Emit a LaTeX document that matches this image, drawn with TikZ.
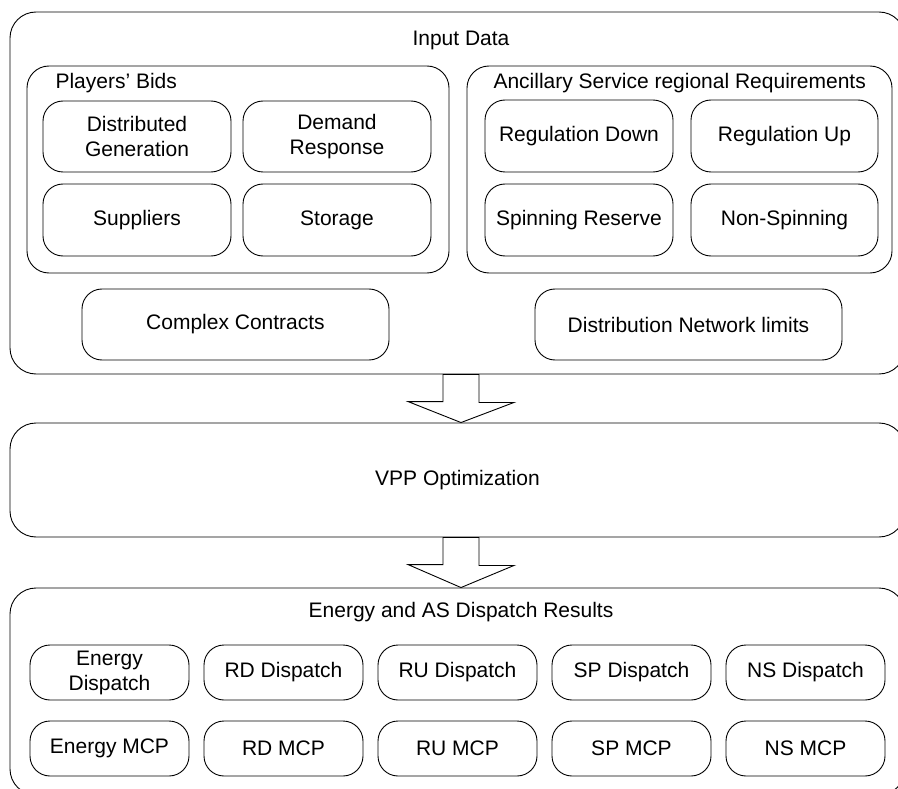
\documentclass[tikz,border=0pt]{standalone}
\usepackage{fontspec}
\setmainfont{Liberation Sans}
\usetikzlibrary{calc}
\begin{document}
\begin{tikzpicture}[x=1pt,y=-1pt,
  font=\fontsize{21}{25}\selectfont,
  panel/.style={draw, line width=0.9pt, rounded corners=26pt, inner sep=0pt, minimum width=895pt},
  group/.style={draw, line width=0.9pt, rounded corners=22pt, inner sep=0pt, minimum height=207pt},
  item/.style={draw, line width=0.9pt, rounded corners=20pt, align=center, inner sep=0pt},
  cell/.style={item, minimum width=159pt, minimum height=55pt},
  blockarrow/.style={draw, fill=white, line width=0.9pt, line join=miter}]
\useasboundingbox (0,0) rectangle (898,789);
\clip (0,0) rectangle (898,789);
\fill[white] (0,0) rectangle (898,789);

% three stacked panels
\node[panel, minimum height=362pt] (inbox) at (457.5,193) {};
\node[panel, minimum height=114pt] (vpp) at (457.5,480) {VPP Optimization};
\node[panel, minimum height=207pt] (res) at (457.5,691.5) {};

\node (intitle) at (461,40) {Input Data};
\node (restitle) at (461,612) {Energy and AS Dispatch Results};

% block arrows between the panels
\coordinate (ax) at (461,0);
\draw[blockarrow] ($(ax|-inbox.south)+(-18,0)$) -- ++(36,0) -- ++(0,28) -- ++(35,0)
  -- (ax|-vpp.north) -- ++(-53,-21) -- ++(35,0) -- cycle;
\draw[blockarrow] ($(ax|-vpp.south)+(-18,0)$) -- ++(36,0) -- ++(0,28) -- ++(35,0)
  -- (ax|-res.north) -- ++(-53,-23) -- ++(35,0) -- cycle;

% players' bids
\node[group, minimum width=422pt] (bids) at (238,169.5) {};
\node[anchor=base west] (bidstitle) at (52,89) {Players’ Bids};
\node[item, minimum width=188pt, minimum height=71pt] (dg) at (137,136.5) {Distributed\\Generation};
\node[item, minimum width=188pt, minimum height=71pt] (dr) at (337,136.5) {Demand\\Response};
\node[item, minimum width=188pt, minimum height=72pt] (sup) at (137,220) {Suppliers};
\node[item, minimum width=188pt, minimum height=72pt] (sto) at (337,220) {Storage};

% ancillary service requirements
\node[group, minimum width=425pt] (anc) at (679.5,169.5) {};
\node[anchor=base west] (anctitle) at (490,89) {Ancillary Service regional Requirements};
\node[item, minimum width=188pt, minimum height=72pt] (rd) at (579,136) {Regulation Down};
\node[item, minimum width=187pt, minimum height=72pt] (ru) at (784.5,136) {Regulation Up};
\node[item, minimum width=188pt, minimum height=72pt] (sp) at (579,220) {Spinning Reserve};
\node[item, minimum width=187pt, minimum height=72pt] (ns) at (784.5,220) {Non-Spinning};

\node[item, minimum width=307pt, minimum height=71pt] (cc) at (235.5,324.5) {Complex Contracts};
\node[item, minimum width=307pt, minimum height=71pt] (dnl) at (688.5,324.5) {Distribution Network limits};

% dispatch results
\node[cell] (ed) at (109.5,672.5) {Energy\\Dispatch};
\node[cell] (rdd) at (283.5,672.5) {RD Dispatch};
\node[cell] (rud) at (457.5,672.5) {RU Dispatch};
\node[cell] (spd) at (631.5,672.5) {SP Dispatch};
\node[cell] (nsd) at (805.5,672.5) {NS Dispatch};
\node[cell] (em) at (109.5,748.5) {Energy MCP};
\node[cell] (rdm) at (283.5,748.5) {RD MCP};
\node[cell] (rum) at (457.5,748.5) {RU MCP};
\node[cell] (spm) at (631.5,748.5) {SP MCP};
\node[cell] (nsm) at (805.5,748.5) {NS MCP};
\end{tikzpicture}
\end{document}
